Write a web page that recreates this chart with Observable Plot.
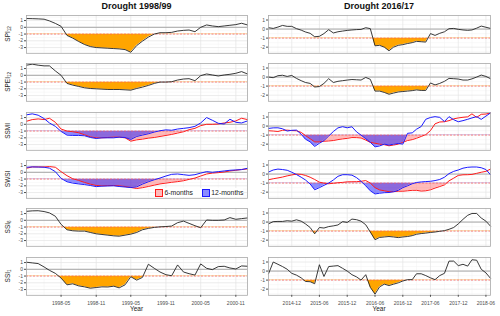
<!DOCTYPE html>
<html><head><meta charset="utf-8">
<script src="https://cdn.jsdelivr.net/npm/d3@7"></script>
<script src="https://cdn.jsdelivr.net/npm/@observablehq/plot@0.6"></script>
<style>
body{margin:0;background:#fff;font-family:"Liberation Sans",Arial,sans-serif}
#chart{position:relative;width:500px;height:316px;overflow:hidden;background:#fff}
#chart svg{position:absolute}
.ttl{position:absolute;top:1px;font-weight:bold;font-size:9px;line-height:11px;color:#111;text-align:center;width:240px}
.xl{position:absolute;top:304.5px;font-size:6.5px;line-height:8px;color:#222;text-align:center;width:100px}
#legend{position:absolute;left:155px;top:188px;height:9px;background:#fff;display:flex;align-items:center;font-size:6.8px;color:#222}
#legend .k{width:6px;height:6px;border:1px solid;margin-right:1.5px}
</style></head><body><div id="chart"></div>
<script>
// ---------- data ----------
const titleL = "Drought 1998/99", titleR = "Drought 2016/17";
const startL = "1997-11", countL = 39;
const startR = "2014-07", countR = 49;
const xTicksL = ["1998-05","1998-11","1999-05","1999-11","2000-05","2000-11"];
const xMinorL = ["1998-02","1998-08","1999-02","1999-08","2000-02","2000-08"];
const xTicksR = ["2014-12","2015-06","2015-12","2016-06","2016-12","2017-06","2017-12","2018-06"];
const xMinorR = ["2014-09","2015-03","2015-09","2016-03","2016-09","2017-03","2017-09","2018-03"];
const yTicksL = [-3,-2,-1,0,1];
const yTicksR = [-2,-1,0,1];
const yDomL = [-3.85, 1.75];
const yDomR = [-2.68, 1.5];
const legendLabels = ["6-months","12-months"];

const SPI12_L = [1.3,1.28,1.25,1.2,0.95,0.58,0.15,-1.2,-1.6,-2.1,-2.55,-2.85,-3.0,-3.05,-3.1,-3.15,-3.2,-3.3,-3.7,-2.7,-2.05,-1.45,-1.0,-0.8,-0.8,-0.75,-0.55,-0.45,-0.4,-0.65,0.0,0.35,0.2,0.1,0.2,0.3,0.4,0.6,0.35];
const SPEI12_L = [1.5,1.65,1.5,1.4,1.4,0.65,0.0,-1.2,-1.45,-1.65,-1.85,-1.95,-2.0,-2.05,-2.1,-2.1,-2.1,-2.15,-2.2,-1.95,-1.75,-1.5,-1.2,-1.0,-1.0,-0.95,-0.7,-0.55,-0.5,-0.8,-0.05,0.2,0.05,-0.1,0.05,0.15,0.3,0.55,0.2];
const SSMI6_L = [0.45,0.7,0.8,0.7,0.9,0.3,-0.7,-1.0,-1.1,-1.25,-1.55,-1.85,-2.0,-2.0,-1.95,-1.9,-1.9,-2.0,-2.5,-2.3,-2.2,-2.05,-1.95,-1.8,-1.65,-1.5,-1.3,-1.1,-0.8,-0.6,-0.2,0.0,0.0,0.05,0.2,0.3,0.5,0.9,0.7];
const SSMI12_L = [1.4,1.55,1.35,0.85,0.2,-0.3,-1.05,-1.6,-1.65,-1.65,-1.7,-1.95,-2.1,-2.0,-2.0,-2.0,-1.9,-1.95,-2.25,-1.8,-1.6,-1.4,-1.15,-0.95,-0.82,-0.88,-0.7,-0.6,-0.5,-0.3,0.2,1.0,0.6,0.15,0.05,0.75,0.3,0.2,0.5];
const SWSI6_L = [0.6,0.8,0.8,0.8,0.85,0.75,0.1,-0.5,-0.95,-1.2,-1.5,-1.75,-1.95,-2.0,-1.97,-1.95,-2.0,-2.1,-2.25,-2.4,-2.28,-2.1,-1.9,-1.72,-1.6,-1.48,-1.38,-1.25,-1.05,-0.85,-0.55,-0.25,-0.12,-0.05,0.05,0.2,0.3,0.42,0.5];
const SWSI12_L = [0.75,0.8,0.78,0.75,0.62,0.1,-0.9,-1.4,-1.6,-1.72,-1.82,-1.95,-2.12,-2.05,-2.02,-2.0,-2.1,-2.18,-2.25,-2.15,-1.75,-1.4,-1.1,-0.85,-0.55,-0.3,-0.25,-0.35,-0.45,-0.35,-0.12,0.1,0.0,0.1,0.2,0.3,0.35,0.4,0.6];
const SSI6_L = [1.33,1.4,1.42,1.3,1.1,0.6,-0.6,-1.4,-1.55,-1.6,-1.6,-1.8,-2.0,-2.1,-2.2,-2.3,-2.35,-2.2,-2.05,-1.8,-1.4,-1.2,-1.05,-0.97,-0.92,-0.85,-0.35,-0.12,-0.45,-0.8,-1.1,0.05,0.0,0.0,0.05,0.4,0.15,0.25,0.35];
const SSI1_L = [1.05,0.95,0.85,0.35,-0.15,-0.6,-1.3,-2.3,-2.15,-2.45,-2.6,-2.8,-2.7,-2.6,-2.62,-2.5,-2.75,-2.3,-1.1,-1.6,-1.2,0.75,0.15,-0.4,-0.8,-0.95,0.65,-0.4,-0.65,-0.85,0.8,0.15,-0.05,0.4,0.45,0.2,0.05,0.5,0.45];

const SPI12_R = [0.15,0.07,0.22,0.4,0.3,0.3,0.05,-0.12,-0.32,-0.47,-0.85,-0.8,-0.5,-0.07,-0.43,-0.3,-0.22,-0.15,-0.1,-0.06,-0.04,0.15,0.05,-1.85,-1.8,-2.0,-2.4,-2.0,-1.8,-1.72,-1.6,-1.5,-1.36,-1.4,-1.44,-0.5,-0.7,-0.47,-0.3,0.04,0.07,-0.03,-0.1,-0.14,-0.1,0.1,0.33,0.2,0.07];
const SPEI12_R = [0.0,-0.07,0.15,0.2,0.07,0.18,-0.15,-0.4,-0.6,-0.7,-1.1,-1.05,-0.7,-0.18,-0.6,-0.47,-0.4,-0.33,-0.27,-0.3,-0.33,-0.04,-0.25,-1.55,-1.55,-1.7,-1.9,-1.77,-1.65,-1.6,-1.55,-1.5,-1.42,-1.48,-1.48,-0.65,-0.87,-0.7,-0.47,-0.15,-0.18,-0.22,-0.33,-0.33,-0.2,0.0,0.22,0.07,-0.18];
const SSMI6_R = [-0.52,-0.55,-0.6,-0.47,-0.45,-0.5,-0.52,-0.7,-1.05,-1.4,-1.75,-1.75,-1.68,-1.65,-1.6,-1.5,-1.42,-1.36,-1.27,-1.28,-1.32,-1.55,-1.8,-1.9,-2.0,-2.06,-2.18,-2.1,-2.0,-1.8,-1.6,-1.5,-1.35,-1.15,-0.95,-0.5,0.25,0.45,0.48,0.6,0.8,0.9,0.97,1.02,1.35,0.96,1.3,1.33,1.45];
const SSMI12_R = [-0.26,-0.2,-0.19,-0.3,-0.55,-0.47,-0.45,-0.9,-1.45,-1.75,-2.25,-1.9,-1.6,-1.1,-0.6,-0.2,-0.07,-0.19,-0.08,-0.65,-1.0,-1.4,-1.8,-2.3,-2.2,-2.0,-2.1,-2.0,-1.93,-2.0,-0.8,-0.75,-0.35,-0.05,0.75,0.95,1.04,0.96,0.5,1.04,0.7,0.48,0.6,0.75,0.9,1.04,0.74,1.1,1.45];
const SWSI6_R = [-0.63,-0.52,-0.43,-0.33,-0.2,-0.1,0.0,-0.03,-0.15,-0.35,-0.6,-0.9,-1.0,-1.07,-1.02,-0.96,-0.92,-0.86,-0.85,-0.84,-0.8,-0.72,-1.0,-1.5,-1.75,-1.85,-1.95,-1.95,-1.9,-1.9,-1.85,-1.8,-1.8,-1.88,-1.85,-1.74,-1.55,-1.38,-1.2,-0.75,-0.45,-0.15,-0.08,-0.07,-0.04,0.08,0.2,0.3,0.55];
const SWSI12_R = [0.22,0.45,0.55,0.5,0.42,0.2,-0.05,-0.35,-0.65,-1.1,-1.74,-1.5,-1.25,-1.0,-0.65,-0.25,-0.07,-0.07,-0.12,-0.4,-0.8,-1.3,-1.85,-2.2,-2.12,-2.06,-2.04,-1.95,-1.8,-1.5,-1.3,-1.07,-0.93,-0.87,-0.83,-0.8,-0.72,-0.6,-0.35,0.05,0.3,0.45,0.65,0.75,0.78,0.78,0.7,0.5,-0.07];
const SSI6_R = [-0.2,0.05,0.07,0.07,0.15,0.1,0.25,0.1,-0.2,-0.6,-1.3,-0.6,-0.66,-0.5,-0.42,-0.32,0.05,-0.04,0.33,0.26,0.1,-0.3,-1.1,-1.95,-1.7,-1.65,-1.6,-1.65,-1.72,-1.65,-1.6,-1.5,-1.35,-1.27,-1.22,-1.15,-1.1,-1.02,-0.95,-0.8,-0.6,-0.2,0.3,0.75,0.95,0.95,0.45,0.1,-0.45];
const SSI1_R = [-0.3,1.0,0.75,0.5,0.2,-0.25,-0.45,-0.75,-1.15,-1.18,-1.4,0.7,-0.6,0.5,0.55,0.6,0.3,0.0,-0.4,-0.65,-1.0,-0.4,-1.8,-2.55,-1.75,-1.45,-1.6,-1.45,-1.3,-1.1,-0.95,-0.95,-0.3,-0.3,-0.5,-0.75,-0.95,-0.5,-0.25,1.1,1.1,0.6,0.75,0.55,1.25,1.2,0.2,-0.2,-0.8];

const rowsDef = [
  {name:"SPI", sub:"12", L:[SPI12_L], R:[SPI12_R]},
  {name:"SPEI", sub:"12", L:[SPEI12_L], R:[SPEI12_R]},
  {name:"SSMI", sub:"", L:[SSMI6_L, SSMI12_L], R:[SSMI6_R, SSMI12_R]},
  {name:"SWSI", sub:"", L:[SWSI6_L, SWSI12_L], R:[SWSI6_R, SWSI12_R]},
  {name:"SSI", sub:"6", L:[SSI6_L], R:[SSI6_R]},
  {name:"SSI", sub:"1", L:[SSI1_L], R:[SSI1_R]}
];

// ---------- helpers ----------
const parseMonth = d3.utcParse("%Y-%m");
function monthSeq(start, n){ const s = parseMonth(start); return d3.range(n).map(i => d3.utcMonth.offset(s, i)); }
const datesL = monthSeq(startL, countL), datesR = monthSeq(startR, countR);
const chart = document.getElementById("chart");
const NS = "http://www.w3.org/2000/svg";
const rowTop = r => 15 + 48.3 * r;
const PH = 37.8;
const ORANGE = "#FFA500", RED = "#ff1a1a", BLUE = "#1a1aff";

function panel(row, col){
  const def = rowsDef[row];
  const left = col === 0;
  const svgX = left ? 0 : 250;
  const fx0 = left ? 26 : 268, fx1 = left ? 247 : 490;
  const mL = fx0 - svgX, mR = svgX + 250 - fx1;
  const last = row === 5;
  const mT = 2, mB = last ? 16 : 2;
  const dates = left ? datesL : datesR;
  const yDom = left ? yDomL : yDomR;
  const series = left ? def.L : def.R;
  const data = dates.map((d, i) => ({date: d, a: series[0][i], b: series[1] ? series[1][i] : null}));
  const maj = (left ? xTicksL : xTicksR).map(parseMonth);
  const minr = (left ? xMinorL : xMinorR).map(parseMonth);
  const yT = left ? yTicksL : yTicksR;
  const yMin = d3.range(-3.5, 2, 1).filter(v => v > yDom[0] && v < yDom[1]);
  const marks = [
    Plot.gridX(minr, {stroke:"#f2f2f2", strokeOpacity:1, strokeWidth:0.5}),
    Plot.gridY(yMin, {stroke:"#f2f2f2", strokeOpacity:1, strokeWidth:0.5}),
    Plot.gridX(maj, {stroke:"#e4e4e4", strokeOpacity:1, strokeWidth:0.7}),
    Plot.gridY(yT, {stroke:"#e4e4e4", strokeOpacity:1, strokeWidth:0.7}),
    Plot.ruleY([0], {stroke:"#a8a8a8", strokeWidth:1})
  ];
  if (series.length === 1) {
    marks.push(Plot.areaY(data, {x:"date", y1: () => -1, y2:"a", fill: ORANGE, curve:"linear"}));
  } else {
    marks.push(Plot.areaY(data, {x:"date", y1: () => -1, y2:"a", fill: RED, fillOpacity:0.3, curve:"linear"}));
    marks.push(Plot.areaY(data, {x:"date", y1: () => -1, y2:"b", fill: BLUE, fillOpacity:0.5, curve:"linear"}));
  }
  marks.push(Plot.ruleY([-1], {stroke:"#ff5a5a", strokeWidth:0.7, strokeDasharray:"2,1.5"}));
  if (series.length === 1) {
    marks.push(Plot.lineY(data, {x:"date", y:"a", stroke:"#222", strokeWidth:0.9}));
  } else {
    marks.push(Plot.lineY(data, {x:"date", y:"a", stroke: RED, strokeWidth:1}));
    marks.push(Plot.lineY(data, {x:"date", y:"b", stroke: BLUE, strokeWidth:1}));
  }
  marks.push(Plot.frame({stroke:"#a8a8a8", strokeWidth:0.8}));
  marks.push(Plot.axisY(yT, {tickSize:2, tickPadding:1.5, fontSize:5, tickFormat: d => String(d), label:null}));
  if (last) marks.push(Plot.axisX(maj, {tickSize:2, tickPadding:4, fontSize:5, tickFormat: d3.utcFormat("%Y-%m"), label:null}));
  const svg = Plot.plot({
    width: 250, height: PH + mT + mB,
    marginLeft: mL, marginRight: mR, marginTop: mT, marginBottom: mB,
    x: {type:"utc", domain:[dates[0], dates[dates.length-1]], axis:null},
    y: {domain: yDom, axis:null},
    style: {fontFamily:"Liberation Sans, Arial, sans-serif", color:"#4d4d4d", background:"transparent", overflow:"visible"},
    marks
  });
  svg.style.left = svgX + "px";
  svg.style.top = (rowTop(row) - mT) + "px";
  // clip the drought areas to the region below the -1 threshold
  const ys = svg.scale("y");
  const yc = ys.apply(-1), yb = ys.apply(yDom[0]);
  const id = `clip-${row}-${col}`;
  const defs = document.createElementNS(NS, "defs");
  const cp = document.createElementNS(NS, "clipPath"); cp.setAttribute("id", id);
  const rect = document.createElementNS(NS, "rect");
  rect.setAttribute("x", mL); rect.setAttribute("y", yc);
  rect.setAttribute("width", 250 - mL - mR); rect.setAttribute("height", yb - yc);
  cp.appendChild(rect); defs.appendChild(cp); svg.insertBefore(defs, svg.firstChild);
  svg.querySelectorAll('g[aria-label="area"]').forEach(g => g.setAttribute("clip-path", `url(#${id})`));
  // y title
  if (left) {
    const t = document.createElementNS(NS, "text");
    t.setAttribute("transform", `translate(9.5,${mT + PH/2}) rotate(-90)`);
    t.setAttribute("text-anchor", "middle");
    t.setAttribute("font-size", "6.5");
    t.setAttribute("fill", "#222");
    const a = document.createElementNS(NS, "tspan"); a.textContent = def.name; t.appendChild(a);
    if (def.sub) {
      const b = document.createElementNS(NS, "tspan");
      b.setAttribute("font-size", "4.6"); b.setAttribute("dy", "1.6");
      b.textContent = def.sub; t.appendChild(b);
    }
    svg.appendChild(t);
  }
  chart.appendChild(svg);
}

for (let r = 0; r < 6; r++) { panel(r, 0); panel(r, 1); }

// titles and x labels
function addDiv(cls, text, left){ const d = document.createElement("div"); d.className = cls; d.textContent = text; d.style.left = left + "px"; chart.appendChild(d); return d; }
addDiv("ttl", titleL, 136.5 - 120);
addDiv("ttl", titleR, 379 - 120);
addDiv("xl", "Year", 136.5 - 50);
addDiv("xl", "Year", 379 - 50);

// legend
const lg = document.createElement("div"); lg.id = "legend";
const keyStyles = [{bg:"rgba(255,26,26,0.3)", bd:RED}, {bg:"rgba(26,26,255,0.5)", bd:BLUE}];
legendLabels.forEach((lab, i) => {
  const k = document.createElement("span"); k.className = "k";
  k.style.background = keyStyles[i].bg; k.style.borderColor = keyStyles[i].bd;
  const s = document.createElement("span"); s.textContent = lab;
  if (i === 0) s.style.marginRight = "9px";
  lg.appendChild(k); lg.appendChild(s);
});
chart.appendChild(lg);
</script>
</body></html>
